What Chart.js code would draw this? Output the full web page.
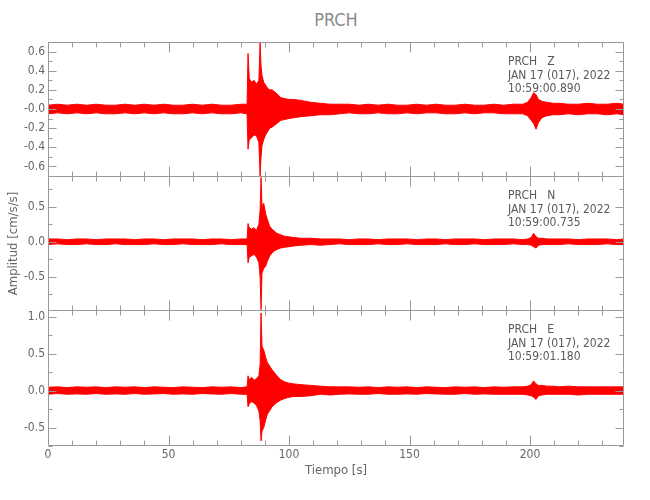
<!DOCTYPE html>
<html>
<head>
<meta charset="utf-8">
<script src="https://cdn.jsdelivr.net/npm/chart.js@4.4.1/dist/chart.umd.min.js"></script>
<style>
  body { margin: 0; background: #fff; width: 650px; height: 500px; position: relative; overflow: hidden; }
  canvas { position: absolute; left: 0; }
  #title { position: absolute; top: 9px; left: 236px; width: 200px; text-align: center;
           font: 18px 'Liberation Sans Narrow', 'DejaVu Sans Condensed', sans-serif; color: #8a8a8a; }
</style>
</head>
<body>
<div id="title">PRCH</div>
<canvas id="pz" width="650" height="135" style="top:42px"></canvas>
<canvas id="pn" width="650" height="135" style="top:176px"></canvas>
<canvas id="pe" width="650" height="190" style="top:310px"></canvas>
<script>
// --- Data (envelope of each trace) ---
const times = [0,4,8,12,16,20,24,28,32,36,40,44,48,52,56,60,64,68,72,76,80,
  82.6,83.0,83.5,84.5,85.5,86.5,87.5,88.0,88.4,88.8,89.5,90.3,91,92,93,94,95,96.5,98,100,102,
  105,109,113,117,121,125,129,133,137,141,145,149,153,157,161,165,169,173,177,181,185,189,193,197,
  199,200.5,201.5,202.5,203.5,205,207,209.5,
  212,216,220,224,228,232,236,239];

const zUp = [0.04,0.05,0.04,0.05,0.04,0.05,0.04,0.04,0.05,0.04,0.05,0.04,0.05,0.04,0.04,0.05,0.04,0.05,0.04,0.04,0.05,
  0.05,0.58,0.32,0.28,0.30,0.26,0.30,0.69,0.45,0.35,0.28,0.25,0.22,0.20,0.20,0.18,0.16,0.12,0.11,0.10,0.10,
  0.09,0.07,0.06,0.05,0.05,0.05,0.04,0.05,0.04,0.05,0.04,0.04,0.05,0.04,0.05,0.04,0.04,0.05,0.04,0.04,0.05,0.04,0.05,0.05,
  0.07,0.12,0.17,0.15,0.10,0.08,0.07,0.06,
  0.06,0.05,0.05,0.06,0.05,0.05,0.06,0.05];
const zLo = [-0.05,-0.04,-0.05,-0.04,-0.05,-0.04,-0.05,-0.05,-0.04,-0.05,-0.04,-0.05,-0.04,-0.05,-0.05,-0.04,-0.05,-0.04,-0.05,-0.05,-0.04,
  -0.05,-0.42,-0.32,-0.30,-0.27,-0.28,-0.35,-0.70,-0.50,-0.38,-0.32,-0.27,-0.24,-0.20,-0.19,-0.17,-0.15,-0.12,-0.11,-0.10,-0.09,
  -0.08,-0.07,-0.06,-0.06,-0.05,-0.04,-0.05,-0.05,-0.04,-0.05,-0.05,-0.04,-0.05,-0.04,-0.04,-0.05,-0.05,-0.04,-0.05,-0.04,-0.04,-0.05,-0.05,-0.05,
  -0.07,-0.12,-0.15,-0.21,-0.14,-0.09,-0.07,-0.06,
  -0.06,-0.05,-0.06,-0.05,-0.05,-0.06,-0.05,-0.06];

const nUp = [0.04,0.04,0.03,0.04,0.04,0.03,0.04,0.04,0.04,0.03,0.04,0.04,0.03,0.04,0.04,0.04,0.03,0.04,0.04,0.03,0.04,
  0.04,0.26,0.20,0.18,0.20,0.16,0.25,0.45,0.92,0.50,0.55,0.40,0.32,0.22,0.18,0.15,0.12,0.10,0.08,0.07,0.06,
  0.05,0.05,0.04,0.04,0.04,0.03,0.04,0.04,0.03,0.04,0.04,0.04,0.03,0.04,0.04,0.03,0.04,0.04,0.04,0.03,0.04,0.04,0.04,0.03,
  0.04,0.06,0.12,0.07,0.05,0.05,0.04,0.04,
  0.04,0.04,0.03,0.04,0.04,0.04,0.03,0.04];
const nLo = [-0.04,-0.03,-0.04,-0.04,-0.03,-0.04,-0.04,-0.03,-0.04,-0.04,-0.04,-0.03,-0.04,-0.04,-0.03,-0.04,-0.04,-0.04,-0.03,-0.04,-0.04,
  -0.04,-0.30,-0.22,-0.20,-0.18,-0.22,-0.30,-0.50,-0.97,-0.45,-0.38,-0.35,-0.28,-0.20,-0.16,-0.13,-0.11,-0.09,-0.08,-0.07,-0.06,
  -0.05,-0.04,-0.05,-0.04,-0.03,-0.04,-0.04,-0.04,-0.03,-0.04,-0.04,-0.03,-0.04,-0.04,-0.04,-0.03,-0.04,-0.04,-0.03,-0.04,-0.04,-0.04,-0.03,-0.04,
  -0.04,-0.05,-0.07,-0.09,-0.05,-0.04,-0.04,-0.04,
  -0.04,-0.03,-0.04,-0.04,-0.04,-0.03,-0.04,-0.04];

const eUp = [0.045,0.05,0.04,0.05,0.045,0.05,0.04,0.05,0.045,0.05,0.04,0.05,0.045,0.04,0.05,0.045,0.04,0.05,0.045,0.05,0.04,
  0.05,0.20,0.15,0.18,0.14,0.16,0.20,0.35,1.05,0.60,0.55,0.45,0.38,0.33,0.28,0.24,0.20,0.15,0.12,0.10,0.09,
  0.08,0.07,0.06,0.05,0.05,0.05,0.045,0.05,0.04,0.05,0.045,0.05,0.04,0.05,0.045,0.04,0.05,0.045,0.05,0.04,0.05,0.045,0.05,0.05,
  0.06,0.08,0.13,0.09,0.07,0.07,0.06,0.06,
  0.05,0.06,0.05,0.05,0.05,0.05,0.05,0.05];
const eLo = [-0.05,-0.04,-0.05,-0.045,-0.05,-0.04,-0.05,-0.045,-0.05,-0.04,-0.05,-0.045,-0.04,-0.05,-0.045,-0.05,-0.04,-0.045,-0.05,-0.04,-0.05,
  -0.05,-0.22,-0.18,-0.15,-0.17,-0.20,-0.28,-0.40,-0.68,-0.55,-0.50,-0.40,-0.32,-0.27,-0.22,-0.19,-0.16,-0.13,-0.11,-0.09,-0.08,
  -0.08,-0.07,-0.05,-0.06,-0.05,-0.045,-0.05,-0.05,-0.04,-0.05,-0.05,-0.045,-0.05,-0.04,-0.045,-0.05,-0.05,-0.04,-0.05,-0.045,-0.05,-0.05,-0.05,-0.05,
  -0.06,-0.07,-0.09,-0.12,-0.07,-0.06,-0.05,-0.05,
  -0.05,-0.05,-0.06,-0.05,-0.05,-0.05,-0.05,-0.05];

// --- Axis ticks ---
const xTicks = [0, 50, 100, 150, 200];
const zTicks = [-0.6, -0.4, -0.2, 0, 0.2, 0.4, 0.6];
const zTickLabels = ['-0.6', '-0.4', '-0.2', '-0.0', '0.2', '0.4', '0.6'];
const nTicks = [-0.5, 0, 0.5];
const nTickLabels = ['-0.5', '0.0', '0.5'];
const eTicks = [-0.5, 0, 0.5, 1.0];
const eTickLabels = ['-0.5', '0.0', '0.5', '1.0'];

// --- Header text of each trace ---
const zNotes = ['PRCH   Z', 'JAN 17 (017), 2022', '10:59:00.890'];
const nNotes = ['PRCH   N', 'JAN 17 (017), 2022', '10:59:00.735'];
const eNotes = ['PRCH   E', 'JAN 17 (017), 2022', '10:59:01.180'];

const FONT = "'Liberation Sans Narrow', 'DejaVu Sans Condensed', sans-serif";
const TEXT = '#666';
const AXIS = '#999';
const RED = '#ff0000';
const X_MAX = 239;

// box + inward ticks on all sides (IDL style) + station header
const framePlugin = {
  id: 'frame',
  afterDatasetsDraw(chart, args, o) {
    const { ctx, chartArea: a, scales: { x, y } } = chart;
    const L = a.left + 0.5, R = a.right - 0.5, T = a.top + 0.5, B = a.bottom - 0.5;
    ctx.save();
    ctx.strokeStyle = AXIS;
    ctx.lineWidth = 1;
    ctx.beginPath();
    ctx.rect(L, T, R - L, B - T);
    // x ticks every 10 s, longer every 50 s
    for (let v = 0; v <= X_MAX; v += 10) {
      const px = Math.round(x.getPixelForValue(v)) + 0.5;
      const len = v % 50 === 0 ? 10 : 5;
      ctx.moveTo(px, B); ctx.lineTo(px, B - len);
      ctx.moveTo(px, T); ctx.lineTo(px, T + len);
    }
    // y ticks
    const step = o.minor;
    for (let v = Math.ceil(y.min / step) * step; v <= y.max + 1e-9; v += step) {
      const py = Math.round(y.getPixelForValue(v)) + 0.5;
      const major = o.ticks.some(t => Math.abs(t - v) < 1e-6);
      const len = major ? 8 : 4;
      ctx.moveTo(L, py); ctx.lineTo(L + len, py);
      ctx.moveTo(R, py); ctx.lineTo(R - len, py);
    }
    ctx.stroke();

    ctx.fillStyle = '#5a5a5a';
    ctx.font = '12px ' + FONT;
    ctx.textBaseline = 'middle';
    o.notes.forEach((s, i) => ctx.fillText(s, 508, a.top + 20 + i * 13.5));
    ctx.restore();
  }
};

function makePanel(id, up, lo, yMin, yMax, ticks, labels, minor, notes, bottom, yTitle) {
  return new Chart(document.getElementById(id), {
    type: 'line',
    data: {
      datasets: [
        { data: times.map((t, i) => ({ x: t, y: up[i] })), borderColor: RED, backgroundColor: RED,
          borderWidth: 1, pointRadius: 0, fill: '+1', tension: 0 },
        { data: times.map((t, i) => ({ x: t, y: lo[i] })), borderColor: RED, backgroundColor: RED,
          borderWidth: 1, pointRadius: 0, fill: false, tension: 0 }
      ]
    },
    options: {
      responsive: false,
      animation: false,
      events: [],
      layout: { padding: { left: 0, right: 26, top: 0, bottom: 0 } },
      plugins: {
        legend: { display: false },
        tooltip: { enabled: false },
        frame: { ticks, minor, notes }
      },
      scales: {
        x: {
          type: 'linear', min: 0, max: X_MAX, display: bottom,
          grid: { display: false, drawTicks: false },
          border: { display: false },
          afterBuildTicks: s => { s.ticks = xTicks.map(v => ({ value: v })); },
          afterFit: s => { s.height = bottom ? 54 : 0; s.paddingLeft = 0; s.paddingRight = 0; },
          ticks: { color: TEXT, font: { family: FONT, size: 12 }, padding: 2, maxRotation: 0, autoSkip: false },
          title: { display: bottom, text: 'Tiempo [s]', color: TEXT, font: { family: FONT, size: 13 },
                   padding: { top: 0, bottom: 22 } }
        },
        y: {
          min: yMin, max: yMax,
          grid: { display: false, drawTicks: false },
          border: { display: false },
          afterBuildTicks: s => { s.ticks = ticks.map(v => ({ value: v })); },
          afterFit: s => { s.width = 48; s.paddingTop = 0; s.paddingBottom = 0; },
          ticks: { color: TEXT, font: { family: FONT, size: 12 }, padding: 3, autoSkip: false,
                   callback: (v, i) => labels[i] },
          title: { display: !!yTitle, text: yTitle || '', color: TEXT, font: { family: FONT, size: 13 },
                   padding: { top: 6, bottom: 0 } }
        }
      }
    },
    plugins: [framePlugin]
  });
}

makePanel('pz', zUp, zLo, -0.71, 0.70, zTicks, zTickLabels, 0.1, zNotes, false);
makePanel('pn', nUp, nLo, -0.99, 0.94, nTicks, nTickLabels, 0.25, nNotes, false, 'Amplitud [cm/s/s]');
makePanel('pe', eUp, eLo, -0.75, 1.09, eTicks, eTickLabels, 0.25, eNotes, true);
</script>
</body>
</html>
